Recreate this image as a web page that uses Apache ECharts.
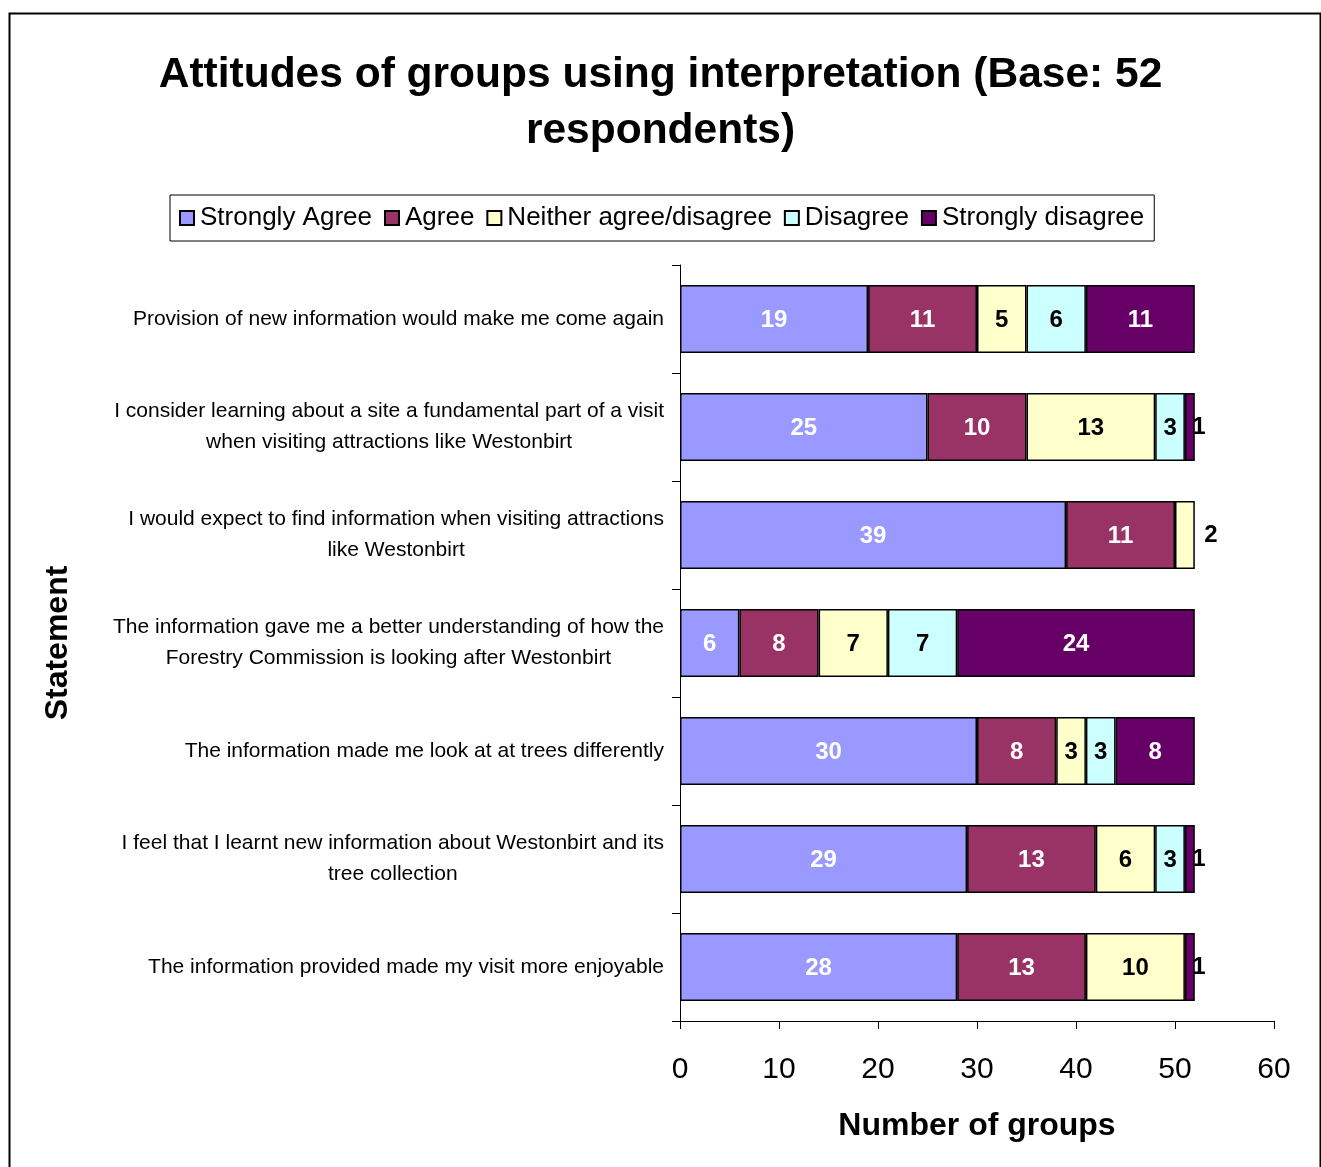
<!DOCTYPE html>
<html>
<head>
<meta charset="utf-8">
<script src="https://cdn.jsdelivr.net/npm/echarts@6/dist/echarts.min.js"></script>
<style>
  html, body { margin: 0; padding: 0; background: #fff; }
  #chart { width: 1321px; height: 1167px; }
</style>
</head>
<body>
<div id="chart"></div>
<script>
// statements, top to bottom
const categories = [
  'Provision of new information would make me come again',
  'I consider learning about a site a fundamental part of a visit\nwhen visiting attractions like Westonbirt',
  'I would expect to find information when visiting attractions\nlike Westonbirt',
  'The information gave me a better understanding of how the\nForestry Commission is looking after Westonbirt',
  'The information made me look at at trees differently',
  'I feel that I learnt new information about Westonbirt and its\ntree collection',
  'The information provided made my visit more enjoyable'
];
const seriesNames = ['Strongly Agree', 'Agree', 'Neither agree/disagree', 'Disagree', 'Strongly disagree'];
const stronglyAgree    = [19, 25, 39, 6, 30, 29, 28];
const agree            = [11, 10, 11, 8, 8, 13, 13];
const neither          = [5, 13, 2, 7, 3, 6, 10];
const disagree         = [6, 3, 0, 7, 3, 3, 0];
const stronglyDisagree = [11, 1, 0, 24, 8, 1, 1];
const xTicks = [0, 10, 20, 30, 40, 50, 60];

const colors = ['#9999FF', '#993366', '#FFFFCC', '#CCFFFF', '#660066'];
const labelColors = ['#fff', '#fff', '#000', '#000', '#fff'];
const values = [stronglyAgree, agree, neither, disagree, stronglyDisagree];

// tiny segments: label pushed to the right of the bar, black
function makeData(arr) {
  return arr.map(v => {
    if (v === 0) return '-';
    if (v === 1) return { value: v, label: { color: '#000', offset: [9, 0] } };
    if (v === 2) return { value: v, label: { color: '#000', offset: [26, 0] } };
    return v;
  });
}

const chart = echarts.init(document.getElementById('chart'));

const series = seriesNames.map((name, i) => ({
  name: name,
  type: 'bar',
  stack: 'total',
  barCategoryGap: '37%',
  itemStyle: { color: colors[i], borderColor: '#000', borderWidth: 1.5 },
  label: {
    show: true,
    position: 'inside',
    color: labelColors[i],
    fontFamily: 'Liberation Sans, Arial',
    fontWeight: 'bold',
    fontSize: 24,
    offset: [0, 1]
  },
  emphasis: { disabled: true },
  data: makeData(values[i])
}));

const option = {
  animation: false,
  backgroundColor: '#fff',
  textStyle: { fontFamily: 'Liberation Sans, Arial' },
  graphic: [{
    type: 'rect',
    left: 7, top: 11,
    shape: { width: 1311, height: 1170 },
    style: { fill: 'none', stroke: '#000', lineWidth: 2 },
    silent: true
  }],
  title: {
    text: 'Attitudes of groups using interpretation (Base: 52\nrespondents)',
    left: 'center',
    top: 42,
    textStyle: {
      fontFamily: 'Liberation Sans, Arial',
      fontWeight: 'bold',
      fontSize: 42.5,
      lineHeight: 56,
      color: '#000'
    }
  },
  legend: {
    left: 170,
    top: 195,
    padding: [10, 10, 10, 9],
    borderColor: '#000',
    borderWidth: 1,
    itemWidth: 14,
    itemHeight: 14,
    itemGap: 12,
    icon: 'rect',
    textStyle: { fontSize: 26, color: '#000', padding: [0, 0, 0, 1] },
    data: seriesNames
  },
  grid: { left: 680, right: 47, top: 265, bottom: 146 },
  xAxis: {
    type: 'value',
    min: 0,
    max: 60,
    interval: 10,
    name: 'Number of groups',
    nameLocation: 'middle',
    nameGap: 89,
    nameTextStyle: { fontWeight: 'bold', fontSize: 32, color: '#000' },
    axisLine: { show: true, lineStyle: { color: '#000', width: 1 } },
    axisTick: { show: true, length: 8, lineStyle: { color: '#000' } },
    axisLabel: {
      fontSize: 30, color: '#000', margin: 34,
      formatter: v => xTicks.includes(v) ? String(v) : ''
    },
    splitLine: { show: false }
  },
  yAxis: {
    type: 'category',
    inverse: true,
    data: categories,
    name: 'Statement',
    nameLocation: 'middle',
    nameGap: 606,
    nameRotate: 90,
    nameTextStyle: { fontWeight: 'bold', fontSize: 32, color: '#000' },
    axisLine: { show: true, lineStyle: { color: '#000', width: 1 } },
    axisTick: { show: true, length: 8, lineStyle: { color: '#000' } },
    axisLabel: {
      margin: 16,
      fontSize: 21,
      color: '#000',
      lineHeight: 31,
      formatter: v => v.split('\n').map(l => '{c|' + l + '}').join('\n'),
      rich: { c: { align: 'center', fontSize: 21, lineHeight: 31, color: '#000' } }
    }
  },
  series: series
};

option && chart.setOption(option);
</script>
</body>
</html>
